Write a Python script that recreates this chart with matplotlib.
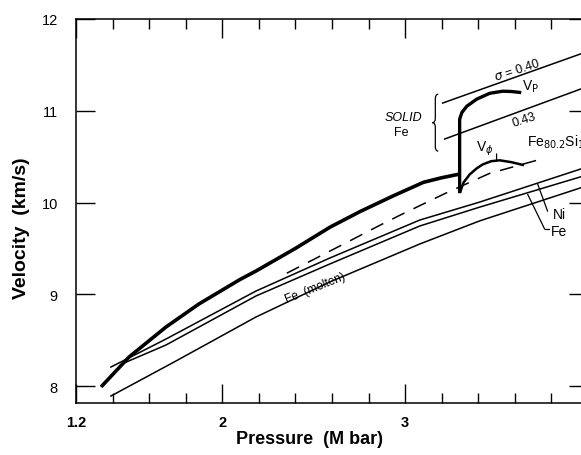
import numpy as np
import matplotlib.pyplot as plt
from matplotlib.path import Path
from matplotlib.patches import PathPatch

plt.rcParams['font.family'] = ['Liberation Sans', 'DejaVu Sans']

# solid Fe along the Hugoniot (thick line), pressure in Mbar, velocity in km/s
hug_p = [1.337, 1.49, 1.692, 1.872, 2.096, 2.184, 2.40, 2.588, 2.752, 2.932, 3.10, 3.20, 3.298]
hug_v = [7.99, 8.316, 8.643, 8.894, 9.16, 9.253, 9.50, 9.73, 9.90, 10.07, 10.22, 10.27, 10.31]

# jump at melting, then Vp branch
vp_p = [3.298, 3.298, 3.31, 3.337, 3.391, 3.462, 3.533, 3.58, 3.626]
vp_v = [10.12, 10.907, 10.98, 11.049, 11.126, 11.19, 11.213, 11.21, 11.20]

# V_phi branch
vphi_p = [3.302, 3.32, 3.353, 3.39, 3.424, 3.47, 3.517, 3.58, 3.643]
vphi_v = [10.12, 10.22, 10.306, 10.37, 10.415, 10.45, 10.46, 10.44, 10.41]

# Fe80.2Si19.8 (dashed)
fesi_p = [2.353, 2.50, 2.68, 2.85, 2.97, 3.22, 3.46, 3.72]
fesi_v = [9.23, 9.38, 9.564, 9.74, 9.86, 10.10, 10.316, 10.46]

# Ni, Fe and molten Fe
ni_p = [1.391, 1.692, 2.184, 2.588, 3.080, 3.408, 3.96, 4.0]
ni_v = [8.207, 8.512, 9.035, 9.395, 9.809, 10.005, 10.365, 10.39]
fe_p = [1.45, 1.692, 2.184, 2.588, 3.080, 3.408, 3.96, 4.0]
fe_v = [8.24, 8.447, 8.981, 9.33, 9.744, 9.95, 10.28, 10.31]
molten_p = [1.391, 1.746, 2.184, 2.588, 3.08, 3.408, 3.96, 4.0]
molten_v = [7.891, 8.272, 8.752, 9.134, 9.548, 9.80, 10.16, 10.19]

# Poisson ratio lines
s40_p = [3.205, 4.0]
s40_v = [11.084, 11.648]
s43_p = [3.216, 4.0]
s43_v = [10.692, 11.266]

x_major = [1.2, 2, 3, 4]
x_labels = ['1.2', '2', '3', '4']
x_minor = [1.4, 1.6, 1.8, 2.2, 2.4, 2.6, 2.8, 3.2, 3.4, 3.6, 3.8]
y_major = [8, 9, 10, 11, 12]


def brace(ax, x, y0, y1, w):
    ym = (y0 + y1) / 2
    d = (y1 - y0) * 0.08
    verts = [(x + w, y1), (x, y1), (x, y1 - d),
             (x, ym + d), (x, ym), (x - w, ym),
             (x, ym), (x, ym - d),
             (x, y0 + d), (x, y0), (x + w, y0)]
    codes = [Path.MOVETO, Path.CURVE3, Path.CURVE3,
             Path.LINETO, Path.CURVE3, Path.CURVE3,
             Path.CURVE3, Path.CURVE3,
             Path.LINETO, Path.CURVE3, Path.CURVE3]
    ax.add_patch(PathPatch(Path(verts, codes), fill=False, lw=0.9, color='black'))


fig = plt.figure(figsize=(5.81, 4.56), dpi=100)
ax = fig.add_axes([76 / 581, 52 / 456, 512 / 581, 384 / 456])

thin = dict(color='black', lw=1.1)
ax.plot(hug_p, hug_v, color='black', lw=2.6, solid_capstyle='butt')
ax.plot(vp_p, vp_v, color='black', lw=2.4, solid_joinstyle='round')
ax.plot(vphi_p, vphi_v, color='black', lw=1.8)
ax.plot(fesi_p, fesi_v, color='black', lw=1.1, linestyle=(0, (9, 6.5)))
ax.plot(ni_p, ni_v, **thin)
ax.plot(fe_p, fe_v, **thin)
ax.plot(molten_p, molten_v, **thin)
ax.plot(s40_p, s40_v, **thin)
ax.plot(s43_p, s43_v, **thin)

ax.set_xlim(1.2, 4.0)
ax.set_ylim(7.815, 12.0)

ax.set_xticks(x_major)
ax.set_xticklabels(x_labels, fontweight='bold')
ax.set_xticks(x_minor, minor=True)
ax.set_yticks(y_major)
ax.set_yticklabels([str(v) for v in y_major])
ax.tick_params(axis='both', which='both', direction='in', top=True, right=True, width=1.0)
ax.tick_params(axis='x', which='major', length=14, labelsize=10.5, pad=9)
ax.tick_params(axis='x', which='minor', length=7.5)
ax.tick_params(axis='y', which='major', length=14, labelsize=10.5, pad=13)
for sp in ax.spines.values():
    sp.set_linewidth(1.1)

# annotations
ax.text(3.61, 11.45, r'$\sigma$ = 0.40', rotation=18, fontsize=9, ha='center', va='center')
ax.text(3.65, 10.91, '0.43', rotation=18, fontsize=9, ha='center', va='center')
ax.text(3.64, 11.27, r'V$_{\mathrm{P}}$', fontsize=10, ha='left', va='center')
ax.text(2.99, 10.93, 'SOLID', fontsize=9, style='italic', ha='center', va='center')
ax.text(2.98, 10.77, 'Fe', fontsize=9, ha='center', va='center')
brace(ax, 3.165, 10.56, 11.18, 0.016)
ax.text(3.435, 10.60, r'V$_{\phi}$', fontsize=10, ha='center', va='center')
ax.annotate('', xy=(3.50, 10.455), xytext=(3.50, 10.53),
            arrowprops=dict(arrowstyle='-', lw=0.9, shrinkA=0, shrinkB=0))
ax.text(3.664, 10.67, r'Fe$_{80.2}$Si$_{19.8}$', fontsize=10, ha='left', va='center', clip_on=False)
ax.text(2.506, 9.07, 'Fe  (molten)', rotation=22, fontsize=8.5, ha='center', va='center')

ax.annotate('', xy=(3.725, 10.20), xytext=(3.779, 9.905),
            arrowprops=dict(arrowstyle='-', lw=0.9, shrinkA=0, shrinkB=0))
ax.text(3.807, 9.875, 'Ni', fontsize=10, ha='left', va='center')
ax.annotate('', xy=(3.670, 10.09), xytext=(3.763, 9.71),
            arrowprops=dict(arrowstyle='-', lw=0.9, shrinkA=0, shrinkB=0))
ax.plot([3.763, 3.785], [9.71, 9.71], color='black', lw=0.9)
ax.text(3.796, 9.69, 'Fe', fontsize=10, ha='left', va='center')

fig.text(22 / 581, 1 - 228 / 456, 'Velocity  (km/s)', rotation=90, fontsize=14,
         fontweight='bold', ha='center', va='center')
fig.text(310 / 581, 1 - 440 / 456, 'Pressure  (M bar)', fontsize=13,
         fontweight='bold', ha='center', va='center')

fig.savefig('out.png', dpi=100)
